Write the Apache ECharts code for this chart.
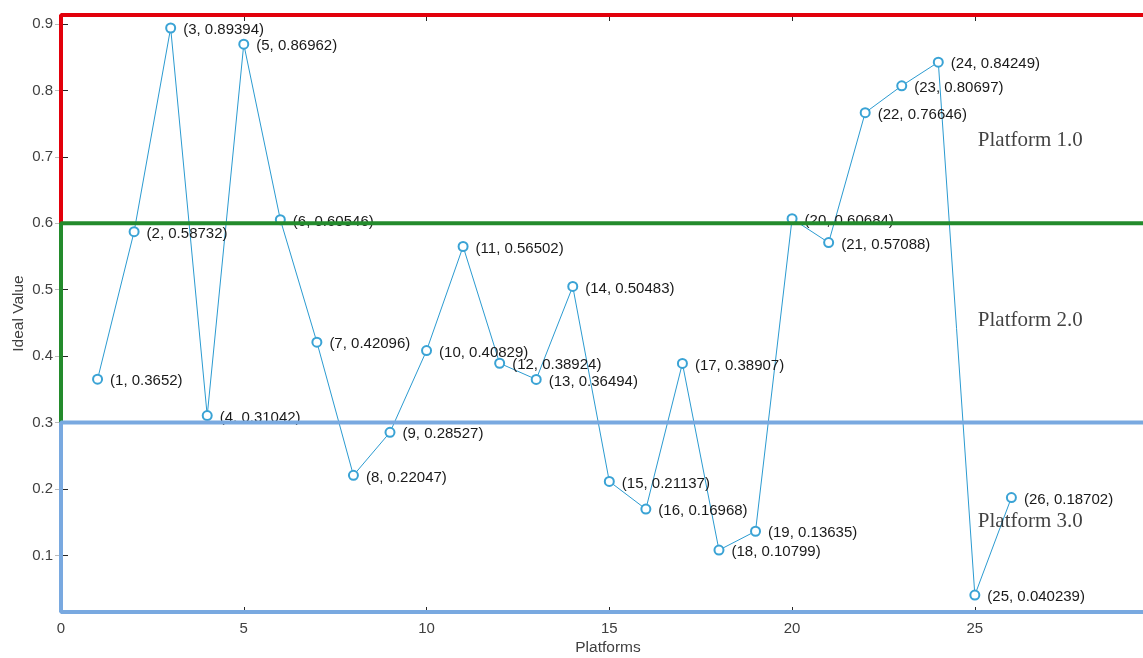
<!DOCTYPE html>
<html>
<head>
<meta charset="utf-8">
<script src="https://cdn.jsdelivr.net/npm/echarts@6/dist/echarts.min.js"></script>
<style>
html,body{margin:0;padding:0;background:#fff;}
#chart{width:1143px;height:658px;}
</style>
</head>
<body>
<div id="chart"></div>
<script>
// ---- data ----
const platformIndex = [1,2,3,4,5,6,7,8,9,10,11,12,13,14,15,16,17,18,19,20,21,22,23,24,25,26];
const idealValues = [0.3652,0.58732,0.89394,0.31042,0.86962,0.60546,0.42096,0.22047,0.28527,0.40829,0.56502,0.38924,0.36494,0.50483,0.21137,0.16968,0.38907,0.10799,0.13635,0.60684,0.57088,0.76646,0.80697,0.84249,0.040239,0.18702];
const valueLabels = ['0.3652','0.58732','0.89394','0.31042','0.86962','0.60546','0.42096','0.22047','0.28527','0.40829','0.56502','0.38924','0.36494','0.50483','0.21137','0.16968','0.38907','0.10799','0.13635','0.60684','0.57088','0.76646','0.80697','0.84249','0.040239','0.18702'];
const xTicks = [0,5,10,15,20,25];
const yTicks = [0.1,0.2,0.3,0.4,0.5,0.6,0.7,0.8,0.9];
const xRange = [0, 29.6];
const yRange = [0.0148, 0.9135];
const bandBounds = [0.3, 0.6];           // thresholds between platform zones
const platformNames = ['Platform 1.0','Platform 2.0','Platform 3.0'];
const platformNameX = [25, 25, 25];
const platformNameY = [0.7245, 0.453, 0.151];

const chart = echarts.init(document.getElementById('chart'));

const tickColor = '#262626';
const labelColor = '#404040';
const font = 'Arial, "Liberation Sans", Helvetica, sans-serif';

function seg(name, color, width, pts) {
  return {
    name: name, type: 'line', data: pts, symbol: 'none', silent: true, clip: false,
    z: 10, animation: false,
    lineStyle: { color: color, width: width, cap: 'square' }
  };
}
const RED = '#e2000b', GREEN = '#238b2c', BLUE = '#79a9e0';

const option = {
  backgroundColor: '#ffffff',
  animation: false,
  grid: { left: 61, right: 0, top: 15, bottom: 46, containLabel: false, outerBoundsMode: 'none' },
  xAxis: [{
    type: 'value', min: xRange[0], max: xRange[1],
    name: 'Platforms', nameLocation: 'middle', nameGap: 28, nameMoveOverlap: false,
    nameTextStyle: { color: labelColor, fontSize: 15.5, fontFamily: font, padding: [0,0,0,12] },
    axisLine: { show: false },
    axisTick: { show: true, inside: true, length: 5, customValues: xTicks, lineStyle: { color: tickColor } },
    axisLabel: { show: true, customValues: xTicks, color: labelColor, fontSize: 15, fontFamily: font, margin: 9 },
    splitLine: { show: false }
  }, {
    type: 'value', min: xRange[0], max: xRange[1], position: 'top',
    axisLine: { show: false },
    axisTick: { show: true, inside: true, length: 6, customValues: xTicks, lineStyle: { color: tickColor } },
    axisLabel: { show: false },
    splitLine: { show: false }
  }],
  yAxis: [{
    type: 'value', min: yRange[0], max: yRange[1],
    name: 'Ideal Value', nameLocation: 'middle', nameGap: 34, nameMoveOverlap: false,
    nameTextStyle: { color: labelColor, fontSize: 15.5, fontFamily: font },
    axisLine: { show: false },
    axisTick: { show: true, inside: true, length: 7, customValues: yTicks, lineStyle: { color: tickColor } },
    axisLabel: { show: true, customValues: yTicks, color: labelColor, fontSize: 15, fontFamily: font, margin: 8,
      formatter: v => v.toFixed(1) },
    splitLine: { show: false }
  }, {
    type: 'value', min: yRange[0], max: yRange[1], position: 'right',
    axisLine: { show: false },
    axisTick: { show: true, inside: true, length: 6, customValues: yTicks, lineStyle: { color: '#bbbbbb' } },
    axisLabel: { show: false },
    splitLine: { show: false }
  }],
  series: [
    {
      name: 'Ideal Value', type: 'line', z: 3,
      data: platformIndex.map((x, i) => [x, idealValues[i]]),
      symbol: 'emptyCircle', symbolSize: 9, showAllSymbol: true,
      lineStyle: { color: '#2b9bd1', width: 1 },
      itemStyle: { color: '#3aa3d5', borderColor: '#3aa3d5', borderWidth: 1 },
      label: {
        show: true, position: 'right', distance: 7, offset: [0, 2],
        color: '#1a1a1a', fontSize: 15, fontFamily: font,
        formatter: p => '(' + platformIndex[p.dataIndex] + ', ' + valueLabels[p.dataIndex] + ')'
      }
    },
    {
      name: 'zones', type: 'scatter', symbolSize: 0, silent: true, z: 4,
      data: platformNames.map((n, i) => ({ name: n, value: [platformNameX[i], platformNameY[i]] })),
      label: {
        show: true, position: 'right', distance: 3, formatter: p => p.name,
        color: '#111', fontSize: 21, fontFamily: '"Liberation Serif", "Times New Roman", serif'
      }
    },
    // Platform 1.0 frame (red)
    seg('r1', RED, 4, [[xRange[1], yRange[1]], [xRange[0], yRange[1]], [xRange[0], bandBounds[1]]]),
    // Platform 2.0 frame (green)
    seg('g1', GREEN, 4, [[xRange[1], bandBounds[1]], [xRange[0], bandBounds[1]], [xRange[0], bandBounds[0]]]),
    // Platform 3.0 frame (blue)
    seg('b1', BLUE, 4, [[xRange[1], bandBounds[0]], [xRange[0], bandBounds[0]], [xRange[0], yRange[0]], [xRange[1], yRange[0]]])
  ]
};
chart.setOption(option);
</script>
</body>
</html>
